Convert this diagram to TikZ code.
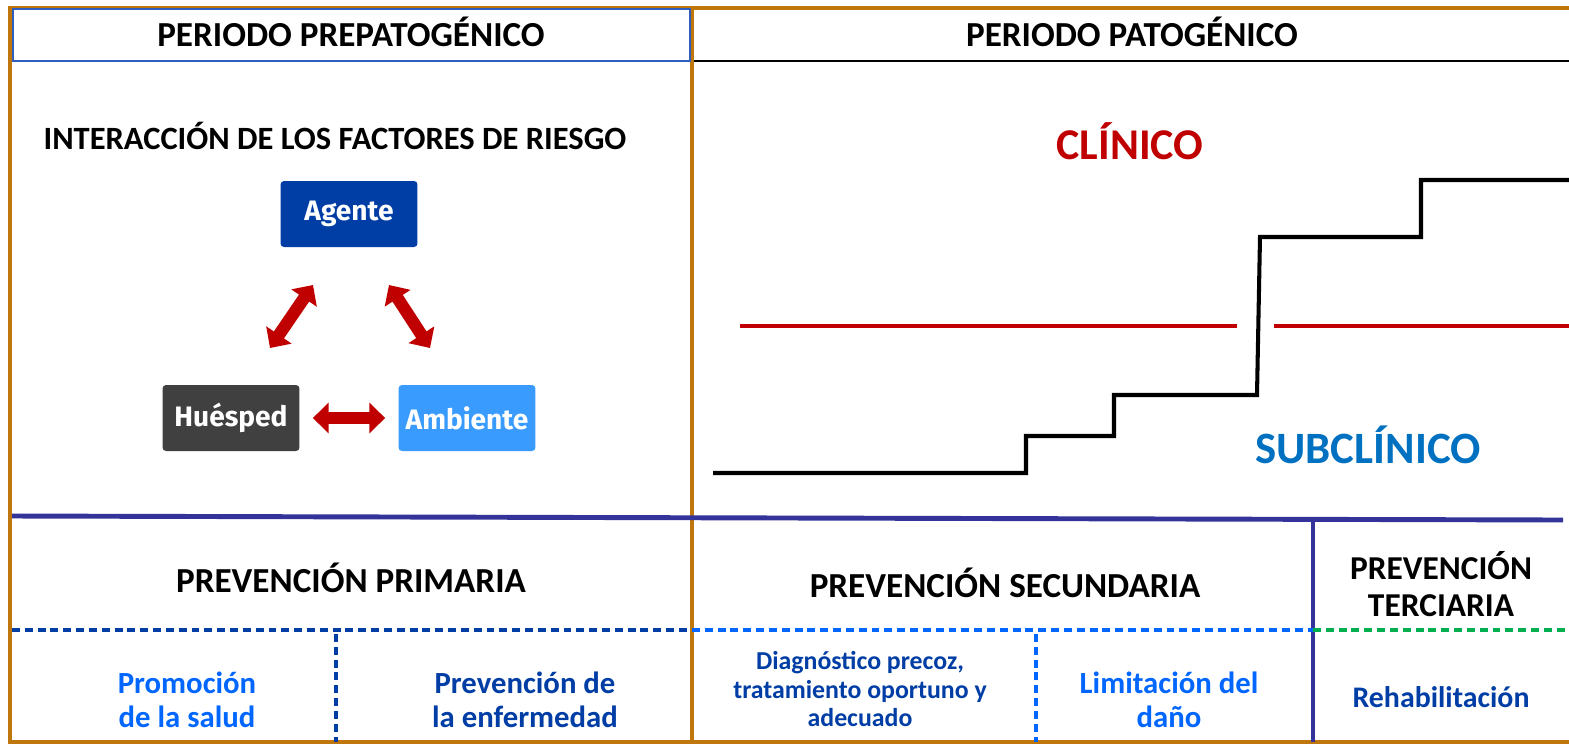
\documentclass[tikz,border=0pt]{standalone}
\usepackage{fontspec}
\setmainfont{Carlito}
\newfontfamily\cajafont{Fira Sans}
\usetikzlibrary{arrows.meta}

\definecolor{bronce}{RGB}{191,118,12}
\definecolor{marino}{RGB}{51,51,153}
\definecolor{azulosc}{RGB}{0,61,165}
\definecolor{azulcla}{RGB}{0,102,255}
\definecolor{celeste}{RGB}{58,155,255}
\definecolor{grisosc}{RGB}{64,64,64}
\definecolor{rojo}{RGB}{192,0,0}
\definecolor{azulsub}{RGB}{0,112,192}
\definecolor{verde}{RGB}{0,176,80}
\definecolor{azulmed}{RGB}{47,95,190}

\begin{document}
\begin{tikzpicture}[x=0.02cm,y=-0.02cm]
\tikzset{ >=latex,
  titulo/.style={font=\bfseries\fontsize{20}{23}\selectfont, align=center},
  caja/.style={rounded corners=2pt, text=white, minimum width=2.74cm, minimum height=1.32cm,
    font=\cajafont\bfseries\fontsize{16}{19}\selectfont},
  flecha/.style={rojo, line width=7pt, {Triangle[width=17pt,length=9pt]}-{Triangle[width=17pt,length=9pt]}},
  nivel/.style={font=\bfseries\fontsize{17.5}{19}\selectfont, align=center},
  raya/.style={line width=2pt, dash pattern=on 4.5pt off 2.8pt},
}
\useasboundingbox (0,0) rectangle (1569,745);
%\draw [lightgray, dashed](0,0) grid[step=100] (1569,745);

% marcos
\draw [bronce, line width=2.8pt] (10,8) rectangle (692,742);
\draw [bronce, line width=2.8pt] (692,8) rectangle (1580,742);
\draw [azulmed, line width=1.1pt] (13,9) rectangle (690,61);
\draw [black, line width=1.1pt] (694,61) -- (1569,61);

\node [titulo] (PRE) at (351,32) {PERIODO PREPATOGÉNICO};
\node [titulo] (PAT) at (1132,32) {PERIODO PATOGÉNICO};

\node [titulo, font=\bfseries\fontsize{18.5}{22}\selectfont] (IFR) at (335,136) {INTERACCIÓN DE LOS FACTORES DE RIESGO};

\node [caja, fill=azulosc] (A) at (349,214) {Agente};
\node [caja, fill=grisosc] (H) at (231,418) {Huésped};
\node [caja, fill=celeste] (M) at (467,418) {Ambiente};

\coordinate (HA) at (270,348);
\coordinate (AH) at (313,285);
\coordinate (AM) at (389,285);
\coordinate (MA) at (430,348);

\draw [flecha] (HA) -- (AH);
\draw [flecha] (AM) -- (MA);
\draw [flecha, shorten <=0.26cm, shorten >=0.26cm] (H) -- (M);

% horizonte clinico
\draw [rojo, line width=2.1pt] (740,326) -- (1237,326);
\draw [rojo, line width=2.1pt] (1274,326) -- (1569,326);

\draw [black, line width=2.3pt] (713,473) -- (1026,473) -- (1026,436) -- (1114,436)
  -- (1114,395) -- (1257,395) -- (1260,237) -- (1421,237) -- (1421,180) -- (1575,180);

\node [titulo, rojo, font=\bfseries\fontsize{25}{29}\selectfont] (CL) at (1130,141) {CLÍNICO};
\node [titulo, azulsub, font=\bfseries\fontsize{25.5}{29}\selectfont] (SC) at (1368,445) {SUBCLÍNICO};

% niveles de prevencion
\draw [marino, line width=2.8pt] (12,516) -- (1563,520);
\draw [marino, line width=2.8pt] (1313,520) -- (1313,742);

\node [titulo] (PP) at (351,578) {PREVENCIÓN PRIMARIA};
\node [titulo] (PS) at (1005,583) {PREVENCIÓN SECUNDARIA};
\node [titulo, font=\bfseries\fontsize{19}{21}\selectfont] (PT) at (1441,584) {PREVENCIÓN\\TERCIARIA};

\draw [raya, azulosc] (12,630) -- (692,630);
\draw [raya, azulcla] (692,630) -- (1313,630);
\draw [raya, verde] (1313,630) -- (1569,630);
\draw [raya, azulosc] (336,634) -- (336,742);
\draw [raya, azulcla] (1036,634) -- (1036,742);

\node [nivel, azulcla] (PS1) at (187,700) {Promoción\\de la salud};
\node [nivel, azulosc] (PE) at (525,700) {Prevención de\\la enfermedad};
\node [nivel, azulosc, font=\bfseries\fontsize{14.7}{16.5}\selectfont] (DP) at (860,689)
  {Diagnóstico precoz,\\tratamiento oportuno y\\adecuado};
\node [nivel, azulcla] (LD) at (1169,700) {Limitación del\\daño};
\node [nivel, azulosc, font=\bfseries\fontsize{17}{19}\selectfont] (RH) at (1441,697) {Rehabilitación};

\end{tikzpicture}
\end{document}
